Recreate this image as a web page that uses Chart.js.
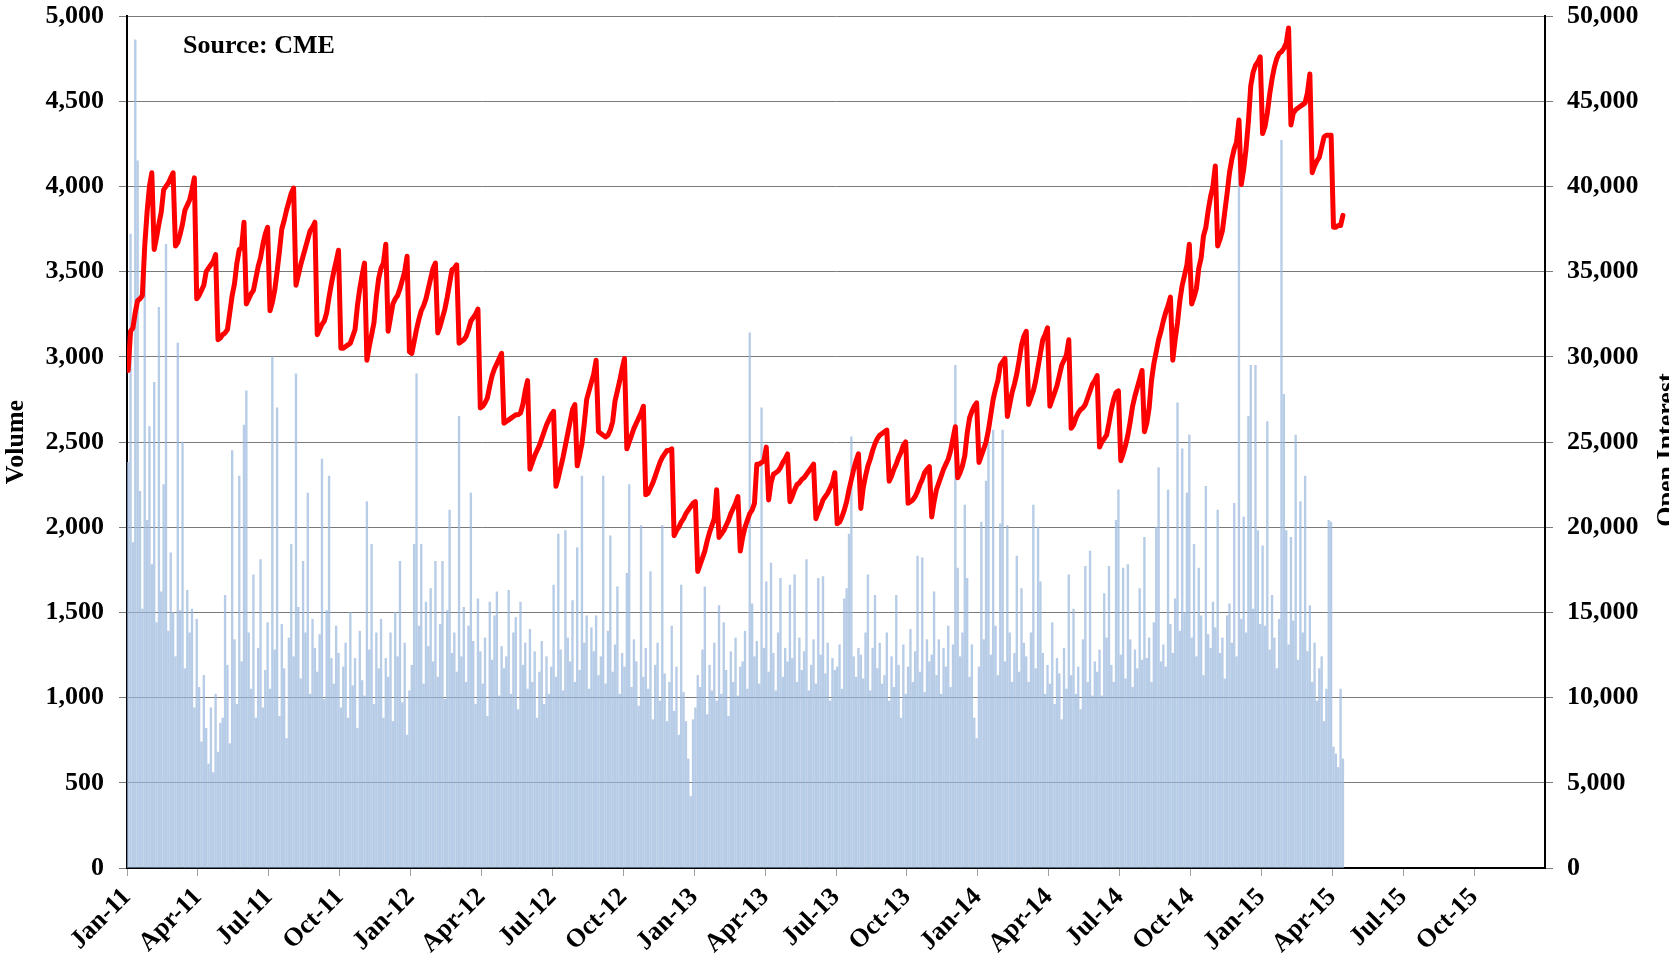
<!DOCTYPE html>
<html>
<head>
<meta charset="utf-8">
<title>Volume and Open Interest</title>
<script src="https://cdn.jsdelivr.net/npm/chart.js@4.4.1/dist/chart.umd.min.js"></script>
<style>
  html, body { margin: 0; padding: 0; background: #ffffff; overflow: hidden; }
  #wrap { width: 1669px; height: 964px; }
</style>
</head>
<body>
<div id="wrap"><canvas id="my-chart" width="1669" height="964"></canvas></div>
<script>
'use strict';

/* DATA */
// quarterly tick labels, Jan-11 .. Oct-15
const tickLabels = ['Jan-11', 'Apr-11', 'Jul-11', 'Oct-11', 'Jan-12', 'Apr-12', 'Jul-12', 'Oct-12',
  'Jan-13', 'Apr-13', 'Jul-13', 'Oct-13', 'Jan-14', 'Apr-14', 'Jul-14', 'Oct-14',
  'Jan-15', 'Apr-15', 'Jul-15', 'Oct-15'];

// sessions read per month (every other trading day)
const samplesPerMonth = 10;

// daily volume, contracts (one row per month)
const volume2011 = [
  2380, 3720, 1910, 4860, 4150, 2210, 1520, 3520, 2040, 2590,
  1780, 2850, 1440, 3290, 1620, 2250, 3660, 1390, 1850, 1500,
  1240, 3080, 1510, 2500, 1170, 1630, 1380, 1520, 940, 1460,
  1060, 740, 1130, 820, 610, 940, 560, 1020, 680, 850,
  880, 1600, 1190, 730, 2450, 1340, 960, 2300, 1210, 2600,
  2800, 1380, 1050, 1720, 880, 1290, 1810, 940, 1160, 1440,
  1050, 3000, 1280, 2700, 890, 1430, 1170, 760, 1350, 1900,
  1240, 2900, 1530, 1110, 1800, 1380, 2200, 1020, 1460, 1290,
  1150, 1370, 2400, 990, 1510, 2300, 1230, 1080, 1420, 1260,
  940, 1180, 1320, 880, 1500, 1070, 1230, 820, 1390, 1100,
  1010, 2150, 1280, 1900, 960, 1380, 1170, 1460, 880, 1230,
  1120, 1380, 860, 1500, 1240, 1800, 970, 1320, 780, 1040
];
const volume2012 = [
  1190, 1900, 2900, 1420, 1900, 1080, 1560, 1300, 1640, 1210,
  1800, 1120, 1430, 1800, 990, 1510, 2100, 1260, 1380, 1150,
  2650, 1240, 1530, 1090, 1420, 2200, 1330, 960, 1580, 1270,
  1080, 1350, 890, 1560, 1220, 1480, 1620, 1010, 1300, 1170,
  1240, 1630, 1020, 1380, 1470, 930, 1560, 1190, 1320, 1050,
  1400, 1090, 1270, 880, 1150, 1330, 960, 1240, 1020, 1180,
  1660, 1120, 1960, 1280, 1040, 1980, 1350, 1210, 1570, 1090,
  1880, 1160, 2300, 1320, 1480, 1050, 1410, 1270, 1480, 1130,
  1240, 2300, 1080, 1390, 1950, 1150, 1310, 1650, 1020, 1260,
  1180, 1730, 2250, 1060, 1340, 1210, 950, 2010, 1120, 1290,
  1050, 1740, 870, 1190, 1320, 980, 2010, 1140, 860, 1090,
  1420, 920, 1180, 780, 1660, 1030, 860, 640, 420, 870
];
const volume2013 = [
  940, 1130, 1060, 1280, 1650, 900, 1190, 1040, 1320, 980,
  1540, 1020, 1440, 1160, 890, 1270, 1090, 1350, 1010, 1180,
  1210, 1390, 1050, 3140, 1550, 1240, 1330, 1080, 2700, 1290,
  1680, 1150, 1790, 1260, 1040, 1380, 1700, 1120, 1290, 1210,
  1660, 1230, 1720, 1090, 1350, 1160, 1270, 1810, 1040, 1190,
  1340, 1080, 1700, 1250, 1710, 1140, 1320, 980, 1230, 1160,
  1180, 1310, 1050, 1580, 1640, 1960, 2530, 1240, 1120, 1290,
  1250, 1110, 1380, 1720, 1040, 1290, 1600, 1170, 1320, 1080,
  1130, 1380, 980, 1240, 1060, 1600, 1190, 880, 1310, 1020,
  1180, 1400, 1090, 1270, 1830, 1150, 1820, 1030, 1340, 1210,
  1250, 1620, 1130, 1340, 1020, 1290, 1180, 1420, 1060, 1310,
  2950, 1760, 1240, 1380, 2130, 1700, 1120, 1310, 880, 760
];
const volume2014 = [
  1180, 2030, 1340, 2270, 2490, 1250, 2570, 1420, 1130, 2020,
  2570, 1210, 2010, 1380, 1090, 1260, 1830, 1150, 1640, 1320,
  1240, 1090, 1380, 2130, 1170, 2000, 1680, 1260, 1020, 1190,
  1080, 1440, 960, 1230, 1140, 870, 1290, 1050, 1720, 1130,
  1520, 1020, 1180, 930, 1340, 1770, 1090, 1860, 1010, 1210,
  1150, 1280, 1010, 1610, 1350, 1770, 1190, 1090, 2040, 2220,
  1250, 1760, 1110, 1780, 1340, 1060, 1280, 1170, 1640, 1220,
  1940, 1230, 1350, 1090, 1440, 2000, 2350, 1210, 1310, 1180,
  2220, 1430, 1260, 1580, 2730, 1390, 2460, 1500, 2200, 2540,
  1350, 1900, 1240, 1760, 1480, 1130, 2240, 1370, 1290, 1560,
  1410, 2100, 1260, 1350, 1110, 1480, 1550, 1320, 2140, 1240,
  4400, 1460, 2060, 1380, 2650, 2950, 1520, 2950, 1980, 1430
];
const volume2015 = [
  1890, 1420, 2620, 1280, 1600, 1350, 1170, 1460, 4270, 2780,
  1980, 1310, 1940, 1450, 2540, 1220, 2150, 1380, 2300, 1270,
  1540, 1090, 1320, 980, 1170, 1240, 860, 1050, 2040, 2030,
  710, 670, 590, 1050, 640
];

// open interest, contracts (same sessions as volume)
const openInterest2011 = [
  29200, 31500, 31700, 32600, 33300, 33400, 33600, 36500, 38500, 40000,
  40800, 36300, 37000, 37800, 38500, 39800, 40000, 40200, 40500, 40800,
  36500, 36700, 37200, 37800, 38600, 38900, 39200, 39800, 40500, 33400,
  33600, 33900, 34200, 35000, 35200, 35400, 35600, 36000, 31000, 31100,
  31300, 31400, 31600, 32600, 33600, 34300, 35500, 36300, 36400, 37900,
  33100, 33400, 33700, 33900, 34600, 35300, 35800, 36600, 37200, 37600,
  32700, 33200, 33900, 35000, 36200, 37500, 38000, 38600, 39100, 39600,
  39900, 34200, 34800, 35400, 35900, 36400, 36900, 37400, 37600, 37900,
  31300, 31600, 31900, 32100, 32600, 33500, 34300, 35000, 35600, 36250,
  30500, 30500, 30600, 30700, 30800, 31200, 31600, 33000, 34000, 34800,
  35500, 29800, 30600, 31300, 32000, 33500, 34600, 35200, 35500, 36600,
  31500, 32300, 33100, 33400, 33600, 34000, 34500, 35000, 35900, 30300
];
const openInterest2012 = [
  30200, 30900, 31600, 32200, 32700, 33000, 33400, 34000, 34600, 35200,
  35500, 31400, 31800, 32300, 32800, 33500, 34300, 35100, 35200, 35400,
  30800, 30900, 31000, 31200, 31600, 32100, 32300, 32500, 32800, 27000,
  27100, 27300, 27600, 28300, 28900, 29300, 29600, 29900, 30200, 26100,
  26200, 26300, 26400, 26500, 26600, 26600, 26700, 27200, 28000, 28600,
  23400, 23800, 24200, 24500, 24800, 25200, 25600, 26000, 26300, 26600,
  26800, 22400, 22900, 23500, 24100, 24800, 25500, 26200, 26900, 27200,
  23600, 24200, 24900, 26100, 27500, 28000, 28500, 29000, 29800, 25600,
  25500, 25400, 25300, 25400, 25700, 26200, 27400, 28000, 28600, 29300,
  29900, 24600, 25000, 25400, 25800, 26100, 26400, 26700, 27100, 21900,
  22000, 22300, 22600, 23000, 23400, 23800, 24100, 24300, 24500, 24500,
  24600, 19500, 19800, 20000, 20300, 20500, 20800, 21000, 21200, 21400
];
const openInterest2013 = [
  21500, 17400, 17800, 18200, 18600, 19200, 19700, 20100, 20500, 22200,
  19400, 19600, 19800, 20100, 20400, 20800, 21100, 21400, 21800, 18600,
  19400, 20000, 20400, 20800, 21000, 21400, 23700, 23700, 23800, 23900,
  24700, 21600, 22600, 23100, 23200, 23300, 23500, 23800, 24000, 24300,
  21500, 21800, 22200, 22500, 22600, 22800, 22900, 23100, 23300, 23500,
  23700, 20500, 20900, 21200, 21600, 21800, 22000, 22300, 22600, 23200,
  20200, 20300, 20600, 21000, 21500, 22200, 22800, 23400, 23900, 24300,
  21100, 22300, 23000, 23600, 24000, 24500, 24900, 25200, 25400, 25500,
  25600, 25700, 22700, 23000, 23400, 23700, 24100, 24400, 24800, 25000,
  21400, 21500, 21600, 21800, 22100, 22500, 22800, 23200, 23400, 23550,
  20600, 21500, 22200, 22600, 23000, 23400, 23700, 24000, 24500, 25200,
  25900, 22900, 23200, 23600, 24200, 25500, 26400, 26800, 27100, 27300
];
const openInterest2014 = [
  23800, 24200, 24600, 25000, 25700, 26600, 27500, 28100, 28600, 29500,
  29700, 29900, 26500, 27200, 27900, 28400, 29000, 29800, 30700, 31200,
  31500, 27200, 27600, 28000, 28600, 29400, 30200, 31000, 31300, 31700,
  27100, 27500, 27900, 28300, 28900, 29500, 29800, 30100, 31000, 25800,
  26000, 26400, 26700, 26900, 27000, 27200, 27600, 28000, 28400, 28600,
  28900, 24700, 25000, 25200, 25400, 26100, 26900, 27500, 27900, 28000,
  23900, 24300, 24800, 25400, 26200, 27100, 27700, 28200, 28700, 29200,
  25600, 26100, 27000, 28600, 29600, 30300, 31000, 31500, 32100, 32600,
  33000, 33500, 29800, 31000, 32000, 33300, 34200, 34800, 35400, 36600,
  33100, 33500, 34000, 35200, 35800, 37100, 37600, 38600, 39400, 40000,
  41200, 36500, 36900, 37400, 38500, 39600, 40800, 41600, 42200, 42600,
  43900, 40100, 41000, 42200, 43800, 45900, 46700, 47100, 47300, 47600
];
const openInterest2015 = [
  43100, 43500, 44300, 45400, 46300, 47000, 47500, 47800, 47900, 48100,
  48400, 49300, 43600, 44300, 44500, 44600, 44700, 44800, 44900, 45500,
  46600, 40800, 41200, 41500, 41700, 42300, 42900, 43000, 43000, 43000,
  37600, 37600, 37700, 37700, 38300
];

const volumeByYear = [volume2011, volume2012, volume2013, volume2014, volume2015];
const openInterestByYear = [openInterest2011, openInterest2012, openInterest2013, openInterest2014, openInterest2015];

/* HELPERS */
// x is measured in months since Jan-11
function toPoints(byYear) {
  let points = [];
  byYear.forEach((values, year) => {
    values.forEach((v, i) => {
      points.push({ x: year * 12 + (i + 0.5) / samplesPerMonth, y: v });
    });
  });
  return points;
}

// keep the value axes flush with the top of the canvas area
function fitValueAxis(width) {
  return (scale) => {
    scale.width = width;
    scale.paddingTop = 16;
    scale.paddingBottom = 0;
  };
}

const serif = "'Liberation Serif', 'Times New Roman', serif";
const tickFont = { family: serif, size: 26, weight: 'bold' };

/* EXTRA TEXT */
const extraText = {
  id: 'extraText',
  afterDraw(chart) {
    const { ctx, chartArea } = chart;
    ctx.save();
    ctx.fillStyle = '#000000';
    ctx.font = 'bold 26px ' + serif;
    ctx.textAlign = 'left';
    ctx.textBaseline = 'alphabetic';
    ctx.fillText('Source: CME', chartArea.left + 56, chartArea.top + 37);

    ctx.translate(chart.width + 5, (chartArea.top + chartArea.bottom) / 2 + 8);
    ctx.rotate(-Math.PI / 2);
    ctx.textAlign = 'center';
    ctx.fillText('Open Interest', 0, 0);
    ctx.restore();
  },
};

/* CHART */
let canvasElem = document.getElementById('my-chart').getContext('2d');

function renderChart() {
  Chart.defaults.color = '#000000';

  let myChartObj = {
    type: 'bar',
    data: {
      datasets: [
        {
          type: 'line',
          label: 'Open Interest',
          data: toPoints(openInterestByYear),
          yAxisID: 'y1',
          borderColor: '#ff0000',
          borderWidth: 5,
          borderJoinStyle: 'round',
          borderCapStyle: 'round',
          pointRadius: 0,
          tension: 0,
          order: 0,
        },
        {
          label: 'Volume',
          data: toPoints(volumeByYear),
          yAxisID: 'y',
          backgroundColor: 'rgba(155, 185, 221, 0.72)',
          barThickness: 1.7,
          order: 1,
        },
      ],
    },
    options: {
      responsive: false,
      devicePixelRatio: 1,
      animation: false,
      layout: {
        padding: 0,
      },
      plugins: {
        legend: { display: false },
        tooltip: { enabled: false },
      },
      scales: {
        x: {
          type: 'linear',
          min: 0,
          max: 60,
          offset: false,
          afterBuildTicks: (scale) => {
            scale.ticks = scale.ticks.filter((t) => t.value < 60);
          },
          afterFit: (scale) => {
            scale.height = 96;
          },
          ticks: {
            stepSize: 3,
            autoSkip: false,
            maxRotation: 45,
            minRotation: 45,
            padding: 6,
            font: tickFont,
            callback: (value) => tickLabels[value / 3] || '',
          },
          grid: {
            offset: false,
            drawOnChartArea: false,
            drawTicks: true,
            tickLength: 8,
            color: '#a0a0a0',
          },
          border: { display: true, color: '#000000', width: 2 },
        },
        y: {
          position: 'left',
          min: 0,
          max: 5000,
          afterFit: fitValueAxis(127),
          ticks: {
            stepSize: 500,
            padding: 15,
            font: tickFont,
            callback: (value) => value.toLocaleString('en-US'),
          },
          grid: {
            color: '#7a7a7a',
            lineWidth: 1,
            tickLength: 8,
          },
          border: { display: true, color: '#000000', width: 2 },
          title: {
            display: true,
            text: 'Volume',
            font: tickFont,
            padding: { top: 1, bottom: 0 },
          },
        },
        y1: {
          position: 'right',
          min: 0,
          max: 50000,
          afterFit: fitValueAxis(124),
          ticks: {
            stepSize: 5000,
            padding: 14,
            font: tickFont,
            callback: (value) => value.toLocaleString('en-US'),
          },
          grid: {
            drawOnChartArea: false,
            color: '#7a7a7a',
            tickLength: 8,
          },
          border: { display: true, color: '#000000', width: 2 },
        },
      },
    },
    plugins: [extraText],
  };
  new Chart(canvasElem, myChartObj);
}
renderChart();
</script>
</body>
</html>
